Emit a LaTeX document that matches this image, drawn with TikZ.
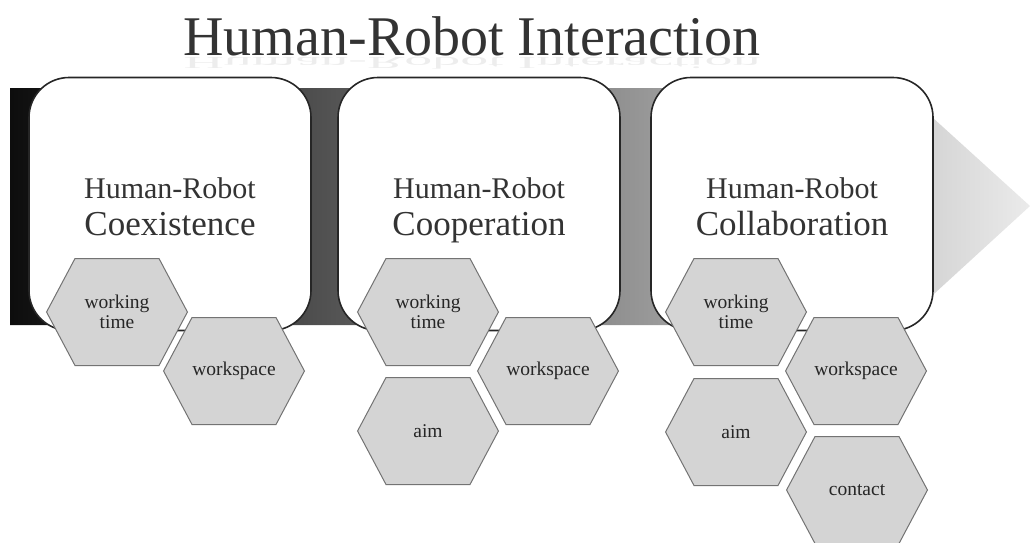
\documentclass[tikz,border=0pt]{standalone}
\usepackage{fontspec}
\setmainfont{Liberation Serif}
\usetikzlibrary{shapes.symbols}

\tikzset{
  stagebox/.style={draw=black!85, line width=1.6pt, fill=white, rounded corners=40pt,
    minimum width=282pt, minimum height=253pt, inner sep=0pt},
  stagehead/.style={anchor=base, text=black!80, font=\fontsize{30}{36}\selectfont},
  stagename/.style={anchor=base, text=black!80, font=\fontsize{35}{40}\selectfont},
  facet/.style={signal, signal to=east and west, signal pointer angle=124,
    minimum width=140pt, minimum height=107pt, inner sep=0pt, draw=black!55, line width=1pt,
    fill=black!17, text width=84pt, align=center, text=black!85, font=\fontsize{19.5}{20}\selectfont},
}

\begin{document}
\begin{tikzpicture}[x=1pt, y=-1pt]
	\useasboundingbox (0,0) rectangle (1030,542);
	
	% Title and its faint mirror image
	\node (title) at (472,55) [anchor=base, text=black!80, font=\fontsize{56}{60}\selectfont] {Human-Robot Interaction};
	\begin{scope}[yscale=-0.3, transform shape]
		\node (mirror) at (472,-192) [anchor=base, text=black!80, opacity=0.09, font=\fontsize{56}{60}\selectfont] {Human-Robot Interaction};
	\end{scope}
	
	% Arrow band behind the stages
	\shade[left color=black!95, right color=black!8] (10,88) -- (900,88) -- (1030,206) -- (900,325) -- (10,325) -- cycle;
	
	% Stages
	\node (coex) at (170,204) [stagebox] {};
	\node (coop) at (479,204) [stagebox] {};
	\node (coll) at (792,204) [stagebox] {};
	
	\node (coexhead) at ([yshift=6pt]coex.center) [stagehead] {Human-Robot};
	\node (coexname) at ([yshift=-31pt]coex.center) [stagename] {Coexistence};
	\node (coophead) at ([yshift=6pt]coop.center) [stagehead] {Human-Robot};
	\node (coopname) at ([yshift=-31pt]coop.center) [stagename] {Cooperation};
	\node (collhead) at ([yshift=6pt]coll.center) [stagehead] {Human-Robot};
	\node (collname) at ([yshift=-31pt]coll.center) [stagename] {Collaboration};
	
	% Hexagons, fixed coordinates
	\node (coextime) at (117,312) [facet] {working\\time};
	\node (coexspace) at (234,371) [facet] {workspace};
	
	\node (cooptime) at (428,312) [facet] {working\\time};
	\node (coopspace) at (548,371) [facet] {workspace};
	\node (coopaim) at (428,431) [facet] {aim};
	
	\node (colltime) at (736,312) [facet] {working\\time};
	\node (collspace) at (856,371) [facet] {workspace};
	\node (collaim) at (736,432) [facet] {aim};
	\node (collcontact) at (857,490) [facet] {contact};
\end{tikzpicture}
\end{document}
